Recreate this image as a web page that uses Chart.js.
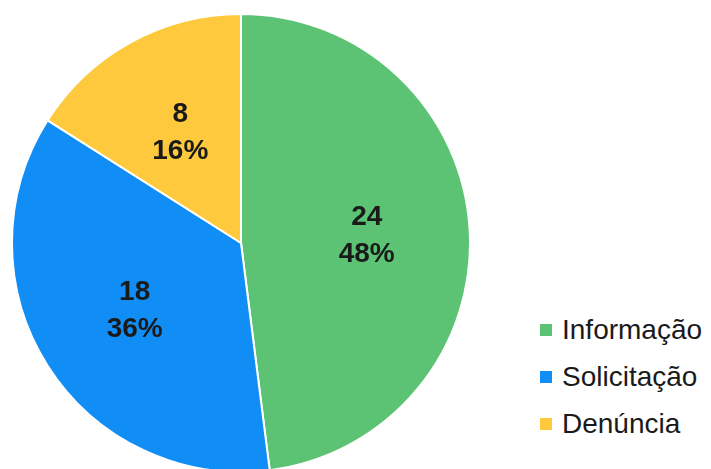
<!DOCTYPE html>
<html>
<head>
<meta charset="utf-8">
<script src="https://cdn.jsdelivr.net/npm/chart.js@4"></script>
<style>
    body { margin: 0; background: #fff; overflow: hidden; width: 711px; height: 469px; position: relative; font-family: Arial, "Liberation Sans", sans-serif; }
    #pie_box { position: absolute; left: 11px; top: 13px; width: 460px; height: 460px; }
    #legenda { position: absolute; left: 540px; top: 306px; }
    .item { height: 47px; display: flex; align-items: center; font-size: 28px; color: #1a1a1a; }
    .item span.cor { width: 12px; height: 12px; margin-right: 10px; display: inline-block; }
</style>
</head>
<body>
<div id="pie_box"><canvas id="grafico"></canvas></div>
<div id="legenda"></div>
<script>
let categorias = ['Informação', 'Solicitação', 'Denúncia'];
let quantidades = [24, 18, 8];
let cores = ['#5cc374', '#108ef5', '#fec93c'];

let total = quantidades.reduce((a, b) => a + b, 0);

// rotulos dentro das fatias: quantidade + percentual
let rotulos = {
    id: 'rotulos',
    afterDatasetsDraw(chart) {
        let ctx = chart.ctx;
        let meta = chart.getDatasetMeta(0);
        ctx.save();
        ctx.font = 'bold 28px Arial, "Liberation Sans", sans-serif';
        ctx.fillStyle = '#1a1a1a';
        ctx.textAlign = 'center';
        ctx.textBaseline = 'middle';
        meta.data.forEach((arc, i) => {
            let p = arc.getProps(['x', 'y', 'startAngle', 'endAngle', 'outerRadius']);
            let ang = (p.startAngle + p.endAngle) / 2;
            let r = p.outerRadius * 0.55;
            let x = p.x + Math.cos(ang) * r;
            let y = p.y + Math.sin(ang) * r;
            let pct = Math.round(quantidades[i] / total * 100) + '%';
            ctx.fillText(String(quantidades[i]), x, y - 18);
            ctx.fillText(pct, x, y + 19);
        });
        ctx.restore();
    }
};

let grafico = new Chart(document.getElementById('grafico'), {
    type: 'pie',
    data: {
        labels: categorias,
        datasets: [{
            data: quantidades,
            backgroundColor: cores,
            borderColor: '#ffffff',
            borderWidth: 2,
            hoverOffset: 0
        }]
    },
    options: {
        responsive: true,
        maintainAspectRatio: false,
        animation: false,
        layout: { padding: 0 },
        plugins: {
            legend: { display: false },
            tooltip: { enabled: false }
        }
    },
    plugins: [rotulos]
});

// legenda montada a partir das categorias
let legenda = document.getElementById('legenda');
categorias.forEach((nome, i) => {
    let div = document.createElement('div');
    div.className = 'item';
    div.innerHTML = '<span class="cor" style="background:' + cores[i] + '"></span>' + nome;
    legenda.appendChild(div);
});
</script>
</body>
</html>
